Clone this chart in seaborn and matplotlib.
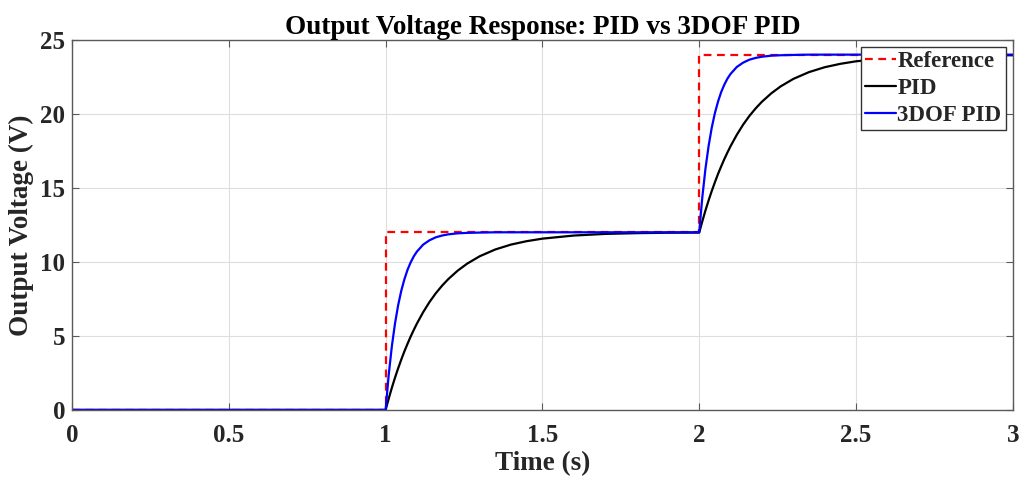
import numpy as np
import pandas as pd
import matplotlib
matplotlib.use("Agg")
import matplotlib.pyplot as plt
import seaborn as sns

# ---- data ----
ref_t = [0, 1, 2, 3]
ref_v = [0, 12, 24, 24]

# time offsets after each step (s)
dt = [0, .01, .02, .03, .04, .05, .06, .07, .08, .09, .10, .12, .14, .16, .18,
      .20, .23, .26, .30, .35, .40, .45, .50, .60, .70, .80, .90, 1.0]
# first step response (0 -> 12 V)
pid_rise1 = [0, 0.77, 1.50, 2.18, 2.81, 3.40, 3.96, 4.47, 4.96, 5.41, 5.84, 6.61,
             7.29, 7.88, 8.39, 8.84, 9.41, 9.88, 10.38, 10.84, 11.17, 11.40, 11.57,
             11.78, 11.89, 11.94, 11.97, 11.98]
dof_rise1 = [0, 2.39, 4.31, 5.84, 7.07, 8.05, 8.83, 9.47, 9.97, 10.38, 10.70, 11.17,
             11.46, 11.66, 11.78, 11.86, 11.93, 11.96, 11.98, 12.0, 12.0, 12.0, 12.0,
             12.0, 12.0, 12.0, 12.0, 12.0]
# second step response (12 -> 24 V)
pid_rise2 = [11.98, 12.75, 13.48, 14.16, 14.79, 15.38, 15.94, 16.45, 16.94, 17.39,
             17.82, 18.59, 19.27, 19.86, 20.37, 20.82, 21.39, 21.86, 22.36, 22.82,
             23.15, 23.38, 23.55, 23.76, 23.87, 23.92, 23.95, 23.96]
dof_rise2 = [12.0, 14.39, 16.31, 17.84, 19.07, 20.05, 20.83, 21.47, 21.97, 22.38,
             22.70, 23.17, 23.46, 23.66, 23.78, 23.86, 23.93, 23.96, 23.98, 24.0,
             24.0, 24.0, 24.0, 24.0, 24.0, 24.0, 24.0, 24.0]

# ---- assemble series ----
t = [0.0] + [1.0 + d for d in dt] + [2.0 + d for d in dt[1:]]
pid = [0.0] + pid_rise1 + pid_rise2[1:]
dof = [0.0] + dof_rise1 + dof_rise2[1:]

df_ref = pd.DataFrame({"t": ref_t, "v": ref_v})
df = pd.DataFrame({"t": t, "pid": pid, "dof": dof})

sns.set_style("whitegrid")
plt.rcParams["font.family"] = ["Liberation Serif", "DejaVu Serif"]
plt.rcParams["font.weight"] = "bold"
TXT = "#262626"

fig = plt.figure(figsize=(10.21, 4.8), dpi=100)
ax = fig.add_axes([0.0705, 0.146, 0.9215, 0.771])

ax.step(df_ref["t"], df_ref["v"], where="post", color="#ff0000", ls=(0, (3.5, 2.5)),
        lw=1.6, label="Reference")
sns.lineplot(data=df, x="t", y="pid", color="black", lw=1.6, label="PID", ax=ax,
             estimator=None, sort=False)
sns.lineplot(data=df, x="t", y="dof", color="#0000ff", lw=1.6, label="3DOF PID", ax=ax,
             estimator=None, sort=False)

ax.set_xlim(0, 3)
ax.set_ylim(0, 25)
ax.set_xticks([0, 0.5, 1, 1.5, 2, 2.5, 3])
ax.set_xticklabels(["0", "0.5", "1", "1.5", "2", "2.5", "3"])
ax.set_yticks([0, 5, 10, 15, 20, 25])
ax.grid(True, color="#dedede", lw=0.8)
for s in ax.spines.values():
    s.set_color("#5a5a5a")
    s.set_linewidth(1.0)
ax.tick_params(axis="both", direction="in", length=5, color="#5a5a5a",
               labelsize=18, labelcolor=TXT, top=True, right=True, bottom=True, left=True,
               labeltop=False, labelright=False)
ax.tick_params(axis="x", pad=10)
ax.tick_params(axis="y", pad=5)
for lab in ax.get_xticklabels() + ax.get_yticklabels():
    lab.set_fontweight("bold")

ax.set_title("Output Voltage Response: PID vs 3DOF PID", fontsize=19.5, fontweight="bold",
             pad=4, color="black")
ax.set_xlabel("Time (s)", fontsize=19.5, fontweight="bold", labelpad=3, color=TXT)
ax.set_ylabel("Output Voltage (V)", fontsize=19.5, fontweight="bold", labelpad=4, color=TXT)

leg = ax.legend(loc="upper right", frameon=True, fancybox=False,
                handlelength=1.35, handletextpad=0.05, borderpad=0.2, labelspacing=0.25,
                borderaxespad=0.3, prop={"weight": "bold", "size": 16.5})
leg.get_frame().set_edgecolor("#333333")
leg.get_frame().set_linewidth(1.0)
leg.get_frame().set_alpha(1)

fig.savefig("out.png", dpi=100)
